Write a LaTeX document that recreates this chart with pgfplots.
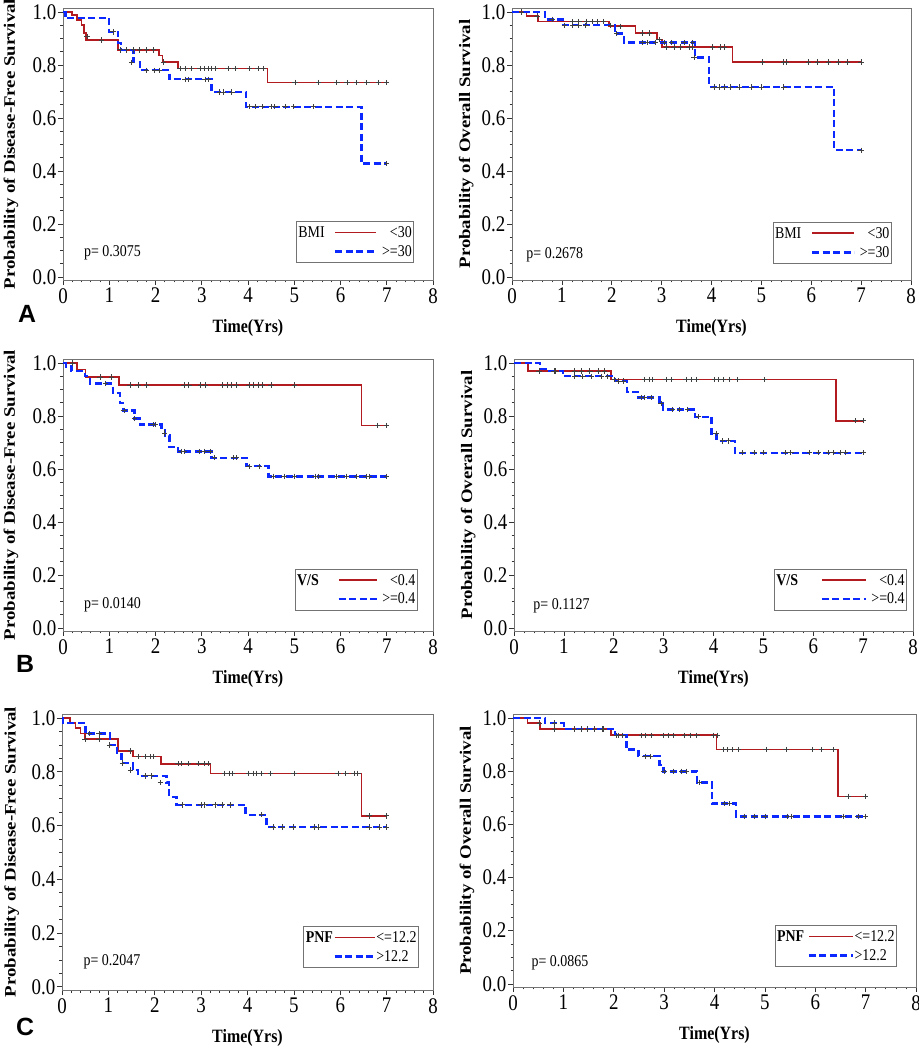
\documentclass[border=0pt]{standalone}
\usepackage{graphicx}
\usepackage{pgfplots}
\pgfplotsset{compat=1.18}
\usepackage{fontspec}
\setmainfont{Liberation Serif}
\newfontfamily\labelfont{Liberation Sans}
\definecolor{kmred}{RGB}{178,28,32}
\definecolor{kmblue}{RGB}{10,40,255}
% the reference text is stretched vertically a little
\newcommand\vs[1]{\scalebox{1}[1.18]{#1}}
\newcommand\hs[1]{\scalebox{1.18}[1]{#1}}
\tikzset{pval/.style={anchor=west, font=\fontsize{14}{14}\selectfont}}

\pgfplotsset{
  km/.style={
    scale only axis,
    xmin=0, xmax=8, ymin=-0.012, ymax=1.015,
    xtick={0,1,2,3,4,5,6,7,8},
    ytick={0,0.2,0.4,0.6,0.8,1.0},
    minor x tick num=4, minor y tick num=3,
    tick align=outside, tick pos=left,
    major tick length=5bp, minor tick length=2.5bp,
    axis line style={black!55},
    tick style={black!80, line width=0.6bp},
    /pgf/number format/assume math mode=true,
    tick label style={font=\fontsize{19}{19}\selectfont},
    xticklabel={\vs{\pgfmathprintnumber{\tick}}},
    yticklabel={\vs{\pgfmathprintnumber[fixed,fixed zerofill,precision=1]{\tick}}},
    yticklabel style={inner sep=1.5bp},
    xticklabel style={inner sep=3bp},
    xlabel={\vs{\bfseries Time(Yrs)}},
    xlabel style={at={(axis description cs:0.5,0)}, anchor=center, yshift=-48bp,
      font=\fontsize{16}{16}\selectfont},
    ylabel style={anchor=center, font=\fontsize{16}{16}\selectfont},
    legend columns=2,
    legend style={draw=black!55, line width=0.8bp, anchor=south east,
      font=\fontsize{14}{14}\selectfont, inner xsep=1.5bp, inner ysep=3bp, row sep=2.5bp,
      nodes={inner xsep=0.5bp, inner ysep=2bp},
      /tikz/column 2/.style={column sep=9bp},
      /tikz/column 3/.style={column sep=4bp}},
    legend image code/.code={\draw[#1] (0bp,0bp) -- (41bp,0bp);},
  },
  redkm/.style={color=kmred, line width=1.6bp, const plot, forget plot},
  bluekm/.style={color=kmblue, line width=2.4bp, dash pattern=on 7bp off 3.5bp, const plot, forget plot},
  cens/.style={only marks, mark=+, mark size=2.7bp, color=black!75,
    mark options={line width=0.75bp}, forget plot},
  redleg/.style={color=kmred, line width=1.8bp},
  blueleg/.style={color=kmblue, line width=2.4bp, dash pattern=on 7bp off 3.5bp},
}

\begin{document}
\begin{tikzpicture}
\useasboundingbox (0,0) rectangle (919bp,1050bp);

% ---------------- A, disease-free ----------------
\begin{axis}[km, at={(63bp,770bp)}, anchor=south west, width=370bp, height=272bp,
  ylabel={\hs{\bfseries Probability of Disease-Free Survival}},
  ylabel style={at={(axis description cs:-0.1405,0.5)}},
  legend cell align=right,
  legend style={at={(0.949,0.0625)}}]
\addplot[redkm] coordinates {(0,1) (0.19,0.989) (0.30,0.970) (0.40,0.951) (0.46,0.92) (0.50,0.894)
  (1.19,0.857) (2.08,0.836) (2.15,0.811) (2.49,0.786) (4.42,0.733) (7.0,0.733)};
\addplot[bluekm] coordinates {(0,1) (0.05,0.977) (1.0,0.925) (1.19,0.883) (1.26,0.857) (1.52,0.81)
  (1.67,0.78) (2.30,0.746) (3.21,0.698) (3.96,0.642) (6.45,0.428) (7.0,0.428)};
\addplot[cens] coordinates {(0.52,0.908) (0.83,0.894) (1.23,0.857) (1.37,0.857) (1.52,0.857)
  (1.65,0.857) (1.81,0.857) (1.96,0.857) (2.17,0.811) (2.53,0.786) (2.64,0.786) (2.78,0.786)
  (2.96,0.786) (3.05,0.786) (3.14,0.786) (3.21,0.786) (3.29,0.786) (3.57,0.786) (3.72,0.786)
  (4.03,0.786) (4.22,0.786) (4.33,0.786) (5.02,0.733) (5.52,0.733) (5.92,0.733) (6.14,0.733)
  (6.34,0.733) (6.57,0.733) (6.82,0.733) (7.0,0.733)};
\addplot[cens] coordinates {(1.08,0.925) (1.48,0.81) (1.80,0.78) (1.98,0.78) (2.09,0.78)
  (2.64,0.746) (2.71,0.746) (3.07,0.746) (3.14,0.746) (3.39,0.698) (3.47,0.698) (3.65,0.698)
  (4.04,0.642) (4.15,0.642) (4.30,0.642) (4.51,0.642) (4.58,0.642) (4.80,0.642) (4.98,0.642)
  (5.42,0.642) (7.0,0.428)};
\addlegendimage{empty legend}\addlegendentry{\vs{BMI}}
\addlegendimage{redleg}\addlegendentry{\vs{<30}}
\addlegendimage{empty legend}\addlegendentry{}
\addlegendimage{blueleg}\addlegendentry{\vs{>=30}}
\node[pval] at (axis cs:0.38,0.09) {\vs{p= 0.3075}};
\end{axis}

% ---------------- A, overall ----------------
\begin{axis}[km, at={(512bp,770bp)}, anchor=south west, width=399bp, height=272bp,
  ylabel={\hs{\bfseries Probability of Overall Survival}},
  ylabel style={at={(axis description cs:-0.115,0.5)}},
  legend cell align=right,
  legend image code/.code={\draw[#1] (0bp,0bp) -- (42bp,0bp);},
  legend style={at={(0.952,0.059)}}]
\addplot[redkm] coordinates {(0,1) (0.29,0.984) (0.52,0.964) (1.94,0.946) (2.48,0.921)
  (2.91,0.896) (3.01,0.868) (4.42,0.811) (7.0,0.811)};
\addplot[bluekm] coordinates {(0,1) (0.66,0.972) (1.02,0.95) (2.06,0.918) (2.25,0.884)
  (3.67,0.828) (3.95,0.717) (6.46,0.478) (7.0,0.478)};
\addplot[cens] coordinates {(0.19,1.0) (0.50,0.984) (1.22,0.964) (1.34,0.964) (1.50,0.964)
  (1.62,0.964) (1.72,0.964) (1.84,0.964) (2.17,0.946) (2.62,0.921) (2.76,0.921) (2.95,0.896)
  (3.10,0.868) (3.25,0.868) (3.38,0.868) (3.55,0.868) (3.62,0.868) (4.02,0.868) (4.18,0.868)
  (4.26,0.868) (5.02,0.811) (5.45,0.811) (5.50,0.811) (5.95,0.811) (6.12,0.811) (6.35,0.811)
  (6.55,0.811) (6.73,0.811) (7.0,0.811)};
\addplot[cens] coordinates {(0.80,0.972) (1.05,0.95) (1.22,0.95) (1.34,0.95) (1.48,0.95)
  (1.98,0.95) (2.10,0.918) (2.62,0.884) (2.72,0.884) (2.88,0.884) (3.05,0.884) (3.20,0.884)
  (3.45,0.884) (3.62,0.884) (3.65,0.828) (4.05,0.717) (4.15,0.717) (4.25,0.717) (4.38,0.717)
  (4.55,0.717) (4.80,0.717) (5.0,0.717) (5.45,0.717) (7.0,0.478)};
\addlegendimage{empty legend}\addlegendentry{\vs{BMI}}
\addlegendimage{redleg}\addlegendentry{\vs{<30}}
\addlegendimage{empty legend}\addlegendentry{}
\addlegendimage{blueleg}\addlegendentry{\vs{>=30}}
\node[pval] at (axis cs:0.22,0.083) {\vs{p= 0.2678}};
\end{axis}

% ---------------- B, disease-free ----------------
\begin{axis}[km, at={(63bp,419bp)}, anchor=south west, width=370bp, height=272bp,
  ylabel={\hs{\bfseries Probability of Disease-Free Survival}},
  ylabel style={at={(axis description cs:-0.1405,0.5)}},
  legend cell align=right,
  legend image code/.code={\draw[#1] (0bp,0bp) -- (38bp,0bp);},
  legend style={at={(0.959,0.074)}, /tikz/column 2/.style={column sep=18bp}}]
\addplot[redkm] coordinates {(0,1) (0.30,0.975) (0.49,0.947) (1.21,0.917) (6.45,0.764) (7.0,0.764)};
\addplot[bluekm] coordinates {(0,1) (0.07,0.987) (0.18,0.969) (0.47,0.95) (0.58,0.922)
  (1.08,0.887) (1.23,0.849) (1.30,0.821) (1.55,0.79) (1.66,0.767) (2.13,0.748) (2.20,0.726)
  (2.30,0.683) (2.49,0.665) (3.21,0.642) (3.97,0.61) (4.44,0.572) (7.0,0.572)};
\addplot[cens] coordinates {(0.20,1.0) (0.80,0.947) (1.05,0.947) (1.45,0.917) (1.62,0.917)
  (1.80,0.917) (2.62,0.917) (2.72,0.917) (2.98,0.917) (3.08,0.917) (3.45,0.917) (3.55,0.917)
  (3.65,0.917) (3.75,0.917) (4.02,0.917) (4.12,0.917) (4.22,0.917) (4.30,0.917) (4.50,0.917)
  (5.0,0.917) (6.80,0.764) (7.0,0.764)};
\addplot[cens] coordinates {(0.92,0.922) (1.32,0.821) (1.55,0.79) (1.95,0.767) (2.0,0.767)
  (2.20,0.735) (2.55,0.665) (2.62,0.665) (2.95,0.665) (3.05,0.665) (3.18,0.665) (3.28,0.642)
  (3.68,0.642) (3.75,0.642) (4.02,0.61) (4.25,0.61) (4.55,0.572) (4.78,0.572) (5.0,0.572)
  (5.45,0.572) (5.52,0.572) (5.92,0.572) (6.12,0.572) (6.35,0.572) (6.55,0.572) (6.62,0.572)
  (7.0,0.572)};
\addlegendimage{empty legend}\addlegendentry{\vs{\bfseries V/S}}
\addlegendimage{redleg}\addlegendentry{\vs{<0.4}}
\addlegendimage{empty legend}\addlegendentry{}
\addlegendimage{blueleg}\addlegendentry{\vs{>=0.4}}
\node[pval] at (axis cs:0.38,0.087) {\vs{p= 0.0140}};
\end{axis}

% ---------------- B, overall ----------------
\begin{axis}[km, at={(514bp,419bp)}, anchor=south west, width=399bp, height=272bp,
  ylabel={\hs{\bfseries Probability of Overall Survival}},
  ylabel style={at={(axis description cs:-0.115,0.5)}},
  legend cell align=right,
  legend image code/.code={\draw[#1] (0bp,0bp) -- (44bp,0bp);},
  legend style={at={(0.985,0.074)}, /tikz/column 2/.style={column sep=22bp}}]
\addplot[redkm] coordinates {(0,1) (0.28,0.970) (1.95,0.937) (6.46,0.782) (7.0,0.782)};
\addplot[bluekm] coordinates {(0,1) (0.52,0.978) (0.68,0.97) (0.98,0.95) (2.02,0.932)
  (2.26,0.891) (2.49,0.869) (2.92,0.847) (2.99,0.824) (3.63,0.797) (3.96,0.734) (4.06,0.706)
  (4.43,0.661) (7.0,0.661)};
\addplot[cens] coordinates {(0.50,0.970) (0.80,0.970) (1.22,0.970) (1.35,0.970) (1.52,0.970)
  (1.70,0.970) (1.82,0.970) (2.02,0.937) (2.62,0.937) (2.72,0.937) (2.78,0.937) (3.05,0.937)
  (3.15,0.937) (3.45,0.937) (3.55,0.937) (3.65,0.937) (4.02,0.937) (4.10,0.937) (4.20,0.937)
  (4.32,0.937) (4.48,0.937) (5.02,0.937) (6.85,0.782) (7.0,0.782)};
\addplot[cens] coordinates {(0.82,0.97) (1.22,0.95) (1.38,0.95) (1.55,0.95) (1.75,0.95)
  (1.88,0.95) (2.10,0.932) (2.20,0.932) (2.55,0.869) (2.62,0.869) (2.75,0.869) (2.95,0.847)
  (3.18,0.824) (3.32,0.824) (3.48,0.824) (3.70,0.797) (4.05,0.734) (4.18,0.706) (4.30,0.706)
  (4.58,0.661) (4.82,0.661) (5.0,0.661) (5.45,0.661) (5.55,0.661) (5.92,0.661) (6.10,0.661)
  (6.30,0.661) (6.40,0.661) (6.55,0.661) (6.65,0.661) (7.0,0.661)};
\addlegendimage{empty legend}\addlegendentry{\vs{\bfseries V/S}}
\addlegendimage{redleg}\addlegendentry{\vs{<0.4}}
\addlegendimage{empty legend}\addlegendentry{}
\addlegendimage{blueleg}\addlegendentry{\vs{>=0.4}}
\node[pval] at (axis cs:0.32,0.083) {\vs{p= 0.1127}};
\end{axis}

% ---------------- C, disease-free ----------------
\begin{axis}[km, at={(62bp,60bp)}, anchor=south west, width=371bp, height=276bp,
  ylabel={\hs{\bfseries Probability of Disease-Free Survival}},
  ylabel style={at={(axis description cs:-0.1355,0.5)}},
  legend cell align=left,
  legend image code/.code={\draw[#1] (0bp,0bp) -- (40bp,0bp);},
  legend style={at={(0.962,0.08)}, /tikz/column 2/.style={column sep=0bp},
    /tikz/column 3/.style={column sep=0bp}}]
\addplot[redkm] coordinates {(0,1) (0.17,0.981) (0.29,0.963) (0.40,0.942) (0.49,0.922)
  (1.21,0.878) (1.53,0.857) (2.13,0.830) (3.20,0.794) (6.46,0.636) (7.0,0.636)};
\addplot[bluekm] coordinates {(0,1) (0.02,0.981) (0.51,0.942) (1.03,0.90) (1.19,0.87)
  (1.28,0.832) (1.53,0.807) (1.64,0.785) (2.25,0.760) (2.31,0.706) (2.47,0.677) (3.96,0.64)
  (4.41,0.594) (7.0,0.594)};
\addplot[cens] coordinates {(0.50,0.922) (0.80,0.922) (1.48,0.878) (1.65,0.857) (1.80,0.857)
  (1.90,0.857) (1.97,0.857) (2.50,0.830) (2.58,0.830) (2.72,0.830) (2.95,0.830) (3.08,0.830)
  (3.15,0.830) (3.50,0.794) (3.60,0.794) (3.68,0.794) (4.02,0.794) (4.12,0.794) (4.20,0.794)
  (4.30,0.794) (4.50,0.794) (5.0,0.794) (5.95,0.794) (6.12,0.794) (6.30,0.794) (6.38,0.794)
  (6.62,0.636) (7.0,0.636)};
\addplot[cens] coordinates {(0.58,0.942) (0.80,0.942) (1.03,0.90) (1.30,0.832) (1.48,0.807)
  (1.80,0.785) (1.92,0.785) (2.12,0.760) (2.60,0.677) (3.0,0.677) (3.08,0.677) (3.30,0.677)
  (3.45,0.677) (3.62,0.677) (4.30,0.64) (4.55,0.594) (4.75,0.594) (4.98,0.594) (5.45,0.594)
  (5.52,0.594) (6.62,0.594) (6.85,0.594) (7.0,0.594)};
\addlegendimage{empty legend}\addlegendentry{\vs{\bfseries PNF}}
\addlegendimage{redleg}\addlegendentry{\vs{<=12.2}}
\addlegendimage{empty legend}\addlegendentry{}
\addlegendimage{blueleg}\addlegendentry{\vs{>12.2}}
\node[pval] at (axis cs:0.39,0.093) {\vs{p= 0.2047}};
\end{axis}

% ---------------- C, overall ----------------
\begin{axis}[km, at={(513bp,63bp)}, anchor=south west, width=403bp, height=273bp,
  ylabel={\hs{\bfseries Probability of Overall Survival}},
  ylabel style={at={(axis description cs:-0.114,0.5)}},
  legend cell align=left,
  legend image code/.code={\draw[#1] (0bp,0bp) -- (44bp,0bp);},
  legend style={at={(0.953,0.073)}, /tikz/column 2/.style={column sep=3bp},
    /tikz/column 3/.style={column sep=0bp}}]
\addplot[redkm] coordinates {(0,1) (0.29,0.981) (0.53,0.959) (1.95,0.935) (4.04,0.881)
  (6.45,0.705) (7.0,0.705)};
\addplot[bluekm] coordinates {(0,1) (0.64,0.981) (1.01,0.959) (2.03,0.935) (2.25,0.881)
  (2.49,0.856) (2.91,0.824) (2.99,0.799) (3.65,0.758) (3.95,0.678) (4.43,0.63) (7.0,0.63)};
\addplot[cens] coordinates {(0.52,0.981) (0.82,0.959) (1.22,0.959) (1.35,0.959) (1.48,0.959)
  (1.62,0.959) (1.78,0.959) (2.05,0.935) (2.18,0.935) (2.55,0.935) (2.62,0.935) (2.75,0.935)
  (2.98,0.935) (3.08,0.935) (3.18,0.935) (3.40,0.935) (3.52,0.935) (3.65,0.935) (3.98,0.935)
  (4.05,0.935) (4.18,0.881) (4.25,0.881) (4.35,0.881) (4.48,0.881) (5.02,0.881) (5.42,0.881)
  (5.95,0.881) (6.12,0.881) (6.35,0.881) (6.65,0.705) (7.0,0.705)};
\addplot[cens] coordinates {(0.82,0.981) (1.22,0.959) (1.35,0.959) (1.48,0.959) (1.62,0.959)
  (1.80,0.959) (2.10,0.935) (2.62,0.856) (2.72,0.856) (3.0,0.799) (3.18,0.799) (3.35,0.799)
  (3.45,0.799) (3.70,0.758) (4.20,0.678) (4.30,0.678) (4.60,0.63) (4.80,0.63) (5.0,0.63)
  (5.45,0.63) (5.52,0.63) (6.55,0.63) (6.85,0.63) (7.0,0.63)};
\addlegendimage{empty legend}\addlegendentry{\vs{\bfseries PNF}}
\addlegendimage{redleg}\addlegendentry{\vs{<=12.2}}
\addlegendimage{empty legend}\addlegendentry{}
\addlegendimage{blueleg}\addlegendentry{\vs{>12.2}}
\node[pval] at (axis cs:0.30,0.079) {\vs{p= 0.0865}};
\end{axis}

\node[font=\labelfont\bfseries\fontsize{25}{25}\selectfont] at (27bp,736bp) {A};
\node[font=\labelfont\bfseries\fontsize{25}{25}\selectfont] at (25bp,386bp) {B};
\node[font=\labelfont\bfseries\fontsize{25}{25}\selectfont] at (25bp,23bp) {C};
\end{tikzpicture}
\end{document}
